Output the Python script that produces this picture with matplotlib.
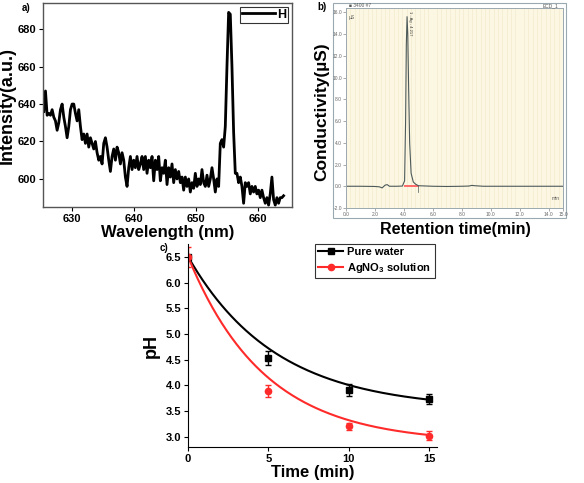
import numpy as np
import matplotlib
matplotlib.use("Agg")
import matplotlib.pyplot as plt
from matplotlib.patches import Rectangle
from matplotlib.lines import Line2D
from matplotlib.ticker import MultipleLocator

plt.rcParams['font.family'] = ['Liberation Sans', 'DejaVu Sans']
plt.rcParams['font.weight'] = 'bold'
plt.rcParams['axes.labelweight'] = 'bold'
plt.rcParams['mathtext.fontset'] = 'custom'
plt.rcParams['mathtext.rm'] = 'Liberation Sans:bold'
plt.rcParams['mathtext.it'] = 'Liberation Sans:bold'
plt.rcParams['mathtext.bf'] = 'Liberation Sans:bold'

# a) emission spectrum (H line), sampled evenly between wl_start and wl_end
wl_start, wl_end = 625.43, 664.14
intensity = [636, 647, 634, 635, 634, 637, 633, 631, 626, 630,
             637, 640, 633, 628, 622, 628, 637, 640, 640, 635,
             631, 637, 628, 621, 624, 619, 624, 617, 622, 619,
             616, 620, 614, 610, 612, 608, 619, 622, 617, 610,
             604, 612, 616, 610, 617, 614, 608, 614, 610, 601,
             596, 606, 612, 605, 610, 606, 612, 605, 608, 612,
             605, 612, 603, 610, 606, 612, 599, 610, 605, 612,
             599, 606, 603, 610, 597, 606, 601, 608, 598, 605,
             600, 604, 598, 601, 594, 601, 596, 600, 593, 598,
             595, 603, 596, 600, 597, 605, 598, 596, 602, 596,
             600, 606, 600, 593, 600, 596, 619, 621, 617, 628,
             660, 689, 688, 660, 625, 603, 603, 598, 601, 596,
             587, 598, 596, 598, 592, 596, 593, 596, 592, 594,
             590, 594, 590, 587, 590, 586, 592, 601, 589, 586,
             590, 587, 590, 590, 591]

# b) ion chromatogram
rt = [0, 1, 2, 2.3, 2.5, 2.7, 2.85, 3.0, 3.5, 3.9, 4.05, 4.12, 4.17,
      4.22, 4.27, 4.33, 4.4, 4.5, 4.65, 4.8, 5.0, 6, 7, 8, 8.5, 8.7,
      8.9, 9.5, 11, 13, 15]
cond = [0, 0, -0.02, -0.05, -0.15, 0.1, 0.15, 0.0, 0, 0.02, 0.5, 6, 13,
        15.6, 14, 9, 4, 1.2, 0.4, 0.2, 0.05, 0, -0.02, 0, 0.02, 0.08,
        0.05, 0, 0, 0, 0]

# c) pH vs time
time_min = [0, 5, 10, 15]
ph_water = [6.5, 4.53, 3.91, 3.73]
ph_water_err = [0, 0.13, 0.11, 0.1]
ph_agno3 = [6.5, 3.89, 3.20, 3.02]
ph_agno3_err = [0.2, 0.11, 0.07, 0.09]
# exponential fits A + B*exp(-t/tau)
fit_water = [3.53, 2.975, 5.46]
fit_agno3 = [2.878, 3.627, 4.76]

W, H = 584, 483
fig = plt.figure(figsize=(W / 100, H / 100), dpi=100)


def box(l, t, r, b):
    return [l / W, 1 - b / H, (r - l) / W, (b - t) / H]


# ---- panel a
ax1 = fig.add_axes(box(43, 3, 292, 207))
wl = np.linspace(wl_start, wl_end, len(intensity))
ax1.plot(wl, intensity, color='black', lw=2.0, label='H')
ax1.set_xlim(625.3, 665.5)
ax1.set_ylim(585, 694)
ax1.set_xticks([630, 640, 650, 660])
ax1.set_yticks([600, 620, 640, 660, 680])
ax1.tick_params(direction='out', length=3, width=0.8, labelsize=8, pad=2)
for s in ax1.spines.values():
    s.set_color('#555555')
    s.set_linewidth(1)
ax1.set_xlabel('Wavelength (nm)', fontsize=12, labelpad=1)
ax1.set_ylabel('Intensity(a.u.)', fontsize=13, labelpad=1)
leg = ax1.legend(loc='upper right', fontsize=9, handlelength=2.6,
                 fancybox=False, edgecolor='black', borderpad=0.15,
                 handletextpad=0.2, borderaxespad=0.3)
leg.get_frame().set_linewidth(0.8)
fig.text(22 / W, 1 - 8 / H, 'a)', fontsize=7, va='center')

# ---- panel b
fig.add_artist(Rectangle((333 / W, 1 - 218 / H), (566 - 333) / W, 215 / H,
                         transform=fig.transFigure, facecolor='white',
                         edgecolor='#9aa8b0', lw=0.8, zorder=-1))
ax2 = fig.add_axes(box(346, 8, 563, 208))
ax2.set_facecolor('#fcf7e2')
ax2.xaxis.set_minor_locator(MultipleLocator(0.3))
ax2.grid(which='minor', axis='x', color='#f4ecd2', lw=0.6)
ax2.plot([4.05, 5.0], [0, 0], color='#ff6a6a', lw=1.4)
ax2.plot(rt, cond, color='#4d5a5a', lw=0.8)
ax2.plot([5.0, 5.0], [0, -0.5], color='#4d5a5a', lw=0.5)
ax2.set_xlim(0, 15)
ax2.set_ylim(-2, 16.4)
xt = [0, 2, 4, 6, 8, 10, 12, 14, 15]
ax2.set_xticks(xt)
ax2.set_xticklabels(['%.1f' % v for v in xt])
yt = list(range(-2, 17, 2))
ax2.set_yticks(yt)
ax2.set_yticklabels(['%.1f' % v for v in yt])
ax2.tick_params(which='major', direction='out', length=2, width=0.5,
                labelsize=3.5, labelcolor='#666666', color='#888888', pad=1)
ax2.tick_params(which='minor', length=0)
for lab in ax2.get_xticklabels() + ax2.get_yticklabels():
    lab.set_fontweight('normal')
for s in ax2.spines.values():
    s.set_color('#9aa8b0')
    s.set_linewidth(0.7)
ax2.text(0.15, 15.8, 'µS', fontsize=3.5, fontweight='normal', color='#555555', va='top')
ax2.text(14.8, -1.3, 'min', fontsize=3.5, fontweight='normal', color='#555555', ha='right')
ax2.text(4.32, 16.1, '1 - Ag - 4.217', fontsize=3, fontweight='normal', rotation=270,
         va='top', ha='left', color='#333333')
fig.text(349 / W, 1 - 5.5 / H, '\u25a0 3400 #7', fontsize=3.5, fontweight='normal',
         color='#555555', va='center')
fig.text(558 / W, 1 - 5.5 / H, 'ECD_1', fontsize=3.5, fontweight='normal',
         color='#555555', va='center', ha='right')
fig.text(322 / W, 1 - 112 / H, 'Conductivity(µS)', fontsize=12.5, rotation=90,
         ha='center', va='center')
fig.text(455 / W, 1 - 229 / H, 'Retention time(min)', fontsize=11.5,
         ha='center', va='center')
fig.text(317 / W, 1 - 7 / H, 'b)', fontsize=7, va='center')

# ---- panel c
ax3 = fig.add_axes(box(188, 244, 437, 447))
t = np.linspace(0, 15, 200)
red = '#ff2a2a'
ax3.plot(t, fit_water[0] + fit_water[1] * np.exp(-t / fit_water[2]), color='black', lw=1.5)
ax3.plot(t, fit_agno3[0] + fit_agno3[1] * np.exp(-t / fit_agno3[2]), color=red, lw=1.5)
ax3.errorbar(time_min, ph_water, yerr=ph_water_err, fmt='s', color='black',
             ms=4.5, capsize=2, elinewidth=1, capthick=1)
ax3.errorbar(time_min, ph_agno3, yerr=ph_agno3_err, fmt='o', color=red,
             ms=4.5, capsize=2, elinewidth=1, capthick=1)
ax3.set_xlim(0, 15.5)
ax3.set_ylim(2.8, 6.75)
ax3.set_xticks([0, 5, 10, 15])
ax3.set_yticks(np.arange(3.0, 6.51, 0.5))
ax3.set_yticklabels(['%.1f' % v for v in np.arange(3.0, 6.51, 0.5)])
ax3.tick_params(direction='out', length=3, width=0.8, labelsize=8, pad=2)
ax3.spines['top'].set_visible(False)
ax3.spines['right'].set_visible(False)
ax3.set_xlabel('Time (min)', fontsize=12, labelpad=1)
ax3.set_ylabel('pH', fontsize=13, labelpad=4)
handles = [Line2D([], [], color='black', marker='s', ms=4.5, lw=1.5),
           Line2D([], [], color=red, marker='o', ms=4.5, lw=1.5)]
leg3 = ax3.legend(handles, ['Pure water', 'AgNO$_3$ solution'], loc='upper right',
                  bbox_to_anchor=(0.99, 1.0), fontsize=8, fancybox=False,
                  edgecolor='black', borderpad=0.3, handlelength=2.2,
                  handletextpad=0.4, borderaxespad=0, labelspacing=0.3)
leg3.get_frame().set_linewidth(0.8)
fig.text(160 / W, 1 - 248 / H, 'c)', fontsize=7, va='center')

fig.savefig('out.png', dpi=100)
